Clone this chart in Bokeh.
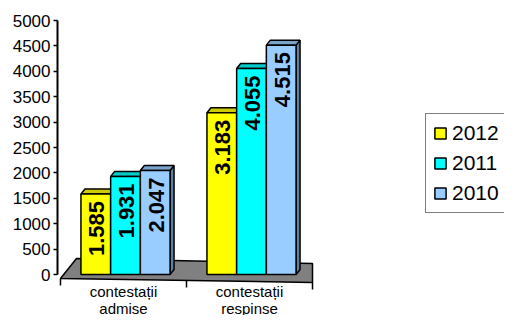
import math
from bokeh.plotting import figure
from bokeh.models import Range1d, LinearAxis, FixedTicker, Legend, LegendItem, Grid
from bokeh.core.properties import value
from bokeh.embed import file_html
from bokeh.resources import INLINE

# ---- data ----
CATEGORIES = ["contestații\nadmise", "contestații\nrespinse"]
YEARS = ["2012", "2011", "2010"]
V_2012 = [1585, 3183]
V_2011 = [1931, 4055]
V_2010 = [2047, 4515]
SERIES = [V_2012, V_2011, V_2010]
Y_TICKS = [0, 500, 1000, 1500, 2000, 2500, 3000, 3500, 4000, 4500, 5000]

# ---- style ----
FRONT = ["#FFFF00", "#00FFFF", "#99CCFF"]
TOP = ["#CCCC00", "#00CCCC", "#7AA3CC"]
SIDE = ["#9E9E00", "#009E9E", "#5F7F9E"]
FONT = "Liberation Sans"

W, H = 504, 315
BORDER_L = 57
FRAME_W = W - BORDER_L
PX_X = 126.0      # pixels per category
PX_Y = 0.0508     # pixels per value unit
X0_PX = 3         # x=0 lies 3px right of frame left
Y0_PX = 274       # y=0 lies 274px below plot top


def dx(px):
    return px / PX_X


def dy(px):
    return px / PX_Y


n = len(CATEGORIES)
x_range = Range1d(-dx(X0_PX), -dx(X0_PX) + dx(FRAME_W))
y_range = Range1d(-dy(H - Y0_PX), dy(Y0_PX))

p = figure(frame_width=FRAME_W, frame_height=H, x_range=x_range, y_range=y_range,
           output_backend="svg", toolbar_location=None,
           x_axis_location=None, y_axis_location=None,
           min_border_left=BORDER_L, min_border_right=0,
           min_border_top=0, min_border_bottom=0)
p.outline_line_color = None
p.background_fill_color = "white"
p.border_fill_color = "white"
for r in list(p.center):
    if isinstance(r, Grid):
        r.visible = False

yaxis = LinearAxis(ticker=FixedTicker(ticks=Y_TICKS), bounds=(Y_TICKS[0], Y_TICKS[-1]),
                   axis_line_width=2, axis_line_color="black",
                   major_tick_out=4, major_tick_in=0, major_tick_line_color="black",
                   major_tick_line_width=1.5,
                   minor_tick_out=0, minor_tick_in=0,
                   major_label_standoff=3,
                   major_label_text_font=FONT, major_label_text_font_size="17px",
                   major_label_text_color="black")
p.add_layout(yaxis, "left")

# ---- floor ----
floor_x = [0, dx(16), n, n]
floor_y = [-dy(4), dy(16), dy(11), -dy(8)]
p.patch(floor_x, floor_y, fill_color="#808080", line_color="black", line_width=1.5)

# x-axis ticks along the floor front edge
tx = list(range(n + 1))
edge_y = [-dy(4 + 4 * t / n) for t in tx]
p.segment(x0=tx, y0=edge_y, x1=tx, y1=[e - dy(7) for e in edge_y],
          line_color="black", line_width=1.5)

# ---- bars ----
BW = dx(29.7)
DDX, DDY = dx(4), dy(5)
legend_items = []
label_x, label_y, label_t = [], [], []
for s, vals in enumerate(SERIES):
    lefts, rights, tops = [], [], []
    top_xs, top_ys, side_xs, side_ys = [], [], [], []
    for g, v in enumerate(vals):
        c = g + 0.5 + dx(2) + (s - 1) * BW
        l, r = c - BW / 2, c + BW / 2
        lefts.append(l)
        rights.append(r)
        tops.append(v)
        top_xs.append([l, r, r + DDX, l + DDX])
        top_ys.append([v, v, v + DDY, v + DDY])
        side_xs.append([r, r, r + DDX, r + DDX])
        side_ys.append([0, v, v + DDY, DDY])
        label_x.append(c)
        label_y.append(v)
        label_t.append(f"{v:,}".replace(",", "."))
    p.patches(side_xs, side_ys, fill_color=SIDE[s], line_color="black", line_width=1.5)
    p.patches(top_xs, top_ys, fill_color=TOP[s], line_color="black", line_width=1.5)
    r_front = p.quad(left=lefts, right=rights, bottom=[0] * len(vals), top=tops,
                     fill_color=FRONT[s], line_color="black", line_width=1.5)
    legend_items.append(LegendItem(label=YEARS[s], renderers=[r_front]))

p.text(x=label_x, y=label_y, text=label_t, angle=math.pi / 2,
       text_align="right", text_baseline="middle", y_offset=7, x_offset=1,
       text_font=value(FONT), text_font_style="bold", text_font_size="22px",
       text_color="black")

# ---- category labels ----
p.text(x=[i + 0.5 for i in range(n)], y=[0] * n, text=CATEGORIES,
       text_align="center", text_baseline="top", y_offset=8,
       text_font=value(FONT), text_font_size="15px", text_line_height=1.0,
       text_color="black")

legend = Legend(items=legend_items, location=(368, 102),
                label_text_font=FONT, label_text_font_size="21px",
                label_text_color="black",
                glyph_width=14, glyph_height=14, label_standoff=5,
                label_height=24, spacing=6, padding=7, margin=0,
                border_line_color="black", border_line_width=1.5,
                background_fill_alpha=0)
p.add_layout(legend, "center")

open("out.html", "w").write(file_html(p, INLINE))
